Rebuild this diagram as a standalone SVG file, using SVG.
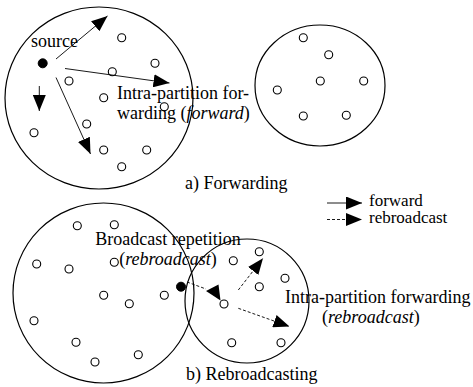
<svg xmlns="http://www.w3.org/2000/svg" width="473" height="387" viewBox="0 0 473 387">
<style>
.part{fill:none;stroke:#000;stroke-width:1.2}
.node{fill:#fff;stroke:#000;stroke-width:1.1}
.src{fill:#000;stroke:#000}
.fw{fill:none;stroke:#000;stroke-width:0.9;marker-end:url(#ah)}
.rb{fill:none;stroke:#000;stroke-width:0.9;stroke-dasharray:3 2;marker-end:url(#ah)}
.rbl{fill:none;stroke:#000;stroke-width:0.9;stroke-dasharray:3 2}
.head{fill:#000}
.lbl{font-family:'Liberation Serif','Times New Roman',serif;font-size:18px;fill:#000}
.lg{font-family:'Liberation Serif','Times New Roman',serif;font-size:17px;fill:#000}
.it{font-style:italic}
</style>
<defs>
<marker id="ah" markerUnits="userSpaceOnUse" markerWidth="16" markerHeight="13" refX="16" refY="6.5" orient="auto"><path d="M0,0 L16,6.5 L0,13 z" fill="#000"/></marker>
</defs>
<rect width="473" height="387" fill="#fff"/>
<g id="partitionA">
<ellipse class="part" cx="99" cy="98" rx="94" ry="91"/>
<circle class="node" cx="121.7" cy="37.7" r="4"/>
<circle class="node" cx="155" cy="63.3" r="4"/>
<circle class="node" cx="112.3" cy="71.7" r="4"/>
<circle class="node" cx="69" cy="81" r="4"/>
<circle class="node" cx="103.7" cy="97.7" r="4"/>
<circle class="node" cx="164.3" cy="106.7" r="4"/>
<circle class="node" cx="86.7" cy="124" r="4"/>
<circle class="node" cx="34" cy="132.7" r="4"/>
<circle class="node" cx="103.7" cy="150" r="4"/>
<circle class="node" cx="146.7" cy="150" r="4"/>
<circle class="node" cx="121.7" cy="166.7" r="4"/>
</g>
<g id="source">
<circle class="src" cx="42.7" cy="63.3" r="4.5"/>
<text class="lbl" x="31" y="47">source</text>
</g>
<g id="partitionB">
<ellipse class="part" cx="320" cy="85.5" rx="65" ry="60.5"/>
<circle class="node" cx="303.3" cy="37.7" r="4"/>
<circle class="node" cx="328.7" cy="54.7" r="4"/>
<circle class="node" cx="320.3" cy="81" r="4"/>
<circle class="node" cx="363.7" cy="81" r="4"/>
<circle class="node" cx="277.3" cy="90" r="4"/>
<circle class="node" cx="303.3" cy="116" r="4"/>
<circle class="node" cx="346.3" cy="115.3" r="4"/>
</g>
<g id="forwardConnectors">
<path class="fw" d="M56,59 L107.5,16"/>
<path class="fw" d="M65,68.5 L169.5,83"/>
<path class="fw" d="M56,77.5 L90.5,154"/>
<path class="fw" d="M39.3,86 L39.3,111"/>
</g>
<g id="labelsA">
<text class="lbl" x="117" y="99">Intra-partition for-</text>
<text class="lbl" x="117" y="119">warding (<tspan class="it">forward</tspan>)</text>
<text class="lbl" x="185" y="189">a) Forwarding</text>
</g>
<g id="legend">
<path class="fw" d="M327,203 L362,203"/>
<path class="rb" d="M327,219.5 L362,219.5"/>
<text class="lg" x="369" y="206">forward</text>
<text class="lg" x="369" y="223">rebroadcast</text>
</g>
<g id="partitionC">
<ellipse class="part" cx="103.5" cy="293" rx="90.5" ry="90"/>
<circle class="node" cx="77.3" cy="225.7" r="4"/>
<circle class="node" cx="114.3" cy="224.7" r="4"/>
<circle class="node" cx="36.7" cy="264" r="4"/>
<circle class="node" cx="69" cy="269" r="4"/>
<circle class="node" cx="114.3" cy="262.3" r="4"/>
<circle class="node" cx="103.7" cy="295.3" r="4"/>
<circle class="node" cx="129.3" cy="303.7" r="4"/>
<circle class="node" cx="164.3" cy="295.3" r="4"/>
<circle class="node" cx="34" cy="320.7" r="4"/>
<circle class="node" cx="76" cy="342.3" r="4"/>
<circle class="node" cx="95" cy="362" r="4"/>
<circle class="node" cx="138.3" cy="354.7" r="4"/>
</g>
<g id="partitionD">
<ellipse class="part" cx="247" cy="301" rx="62" ry="62"/>
<circle class="node" cx="233.3" cy="260.7" r="4"/>
<circle class="node" cx="259.3" cy="251.7" r="4"/>
<circle class="node" cx="285" cy="278.3" r="4"/>
<circle class="node" cx="259.3" cy="286.7" r="4"/>
<circle class="node" cx="224" cy="304" r="4"/>
<circle class="node" cx="231.7" cy="342.7" r="4"/>
<circle class="node" cx="281" cy="342.7" r="4"/>
</g>
<g id="gateway">
<circle class="src" cx="181" cy="286.7" r="4.5"/>
</g>
<g id="rebroadcastConnectors">
<path class="rbl" d="M187,282 L206,289"/>
<polygon class="head" points="206,291 218.5,284.5 220.5,300.5"/>
<path class="rb" d="M238.3,290 L263,258.3"/>
<path class="rb" d="M238.3,308.3 L289.5,326.5"/>
</g>
<g id="labelsB">
<text class="lbl" x="168" y="245" text-anchor="middle">Broadcast repetition</text>
<text class="lbl" x="168" y="265" text-anchor="middle">(<tspan class="it">rebroadcast</tspan>)</text>
<text class="lbl" x="285" y="303">Intra-partition forwarding</text>
<text class="lbl" x="322" y="323">(<tspan class="it">rebroadcast</tspan>)</text>
<text class="lbl" x="186" y="380">b) Rebroadcasting</text>
</g>
</svg>
